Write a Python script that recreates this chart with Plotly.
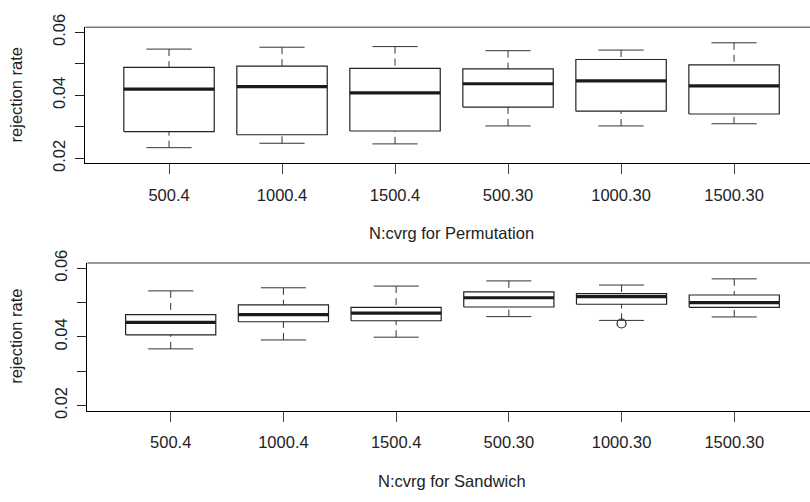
import plotly.graph_objects as go

# Setting labels (N:cvrg) shared by both panels
categories = ["500.4", "1000.4", "1500.4", "500.30", "1000.30", "1500.30"]

# Permutation test: five-number summaries of the rejection rate
perm_lower = [0.0234, 0.0248, 0.0246, 0.0303, 0.0303, 0.0310]
perm_q1 = [0.0285, 0.0275, 0.0287, 0.0363, 0.0350, 0.0341]
perm_median = [0.0420, 0.0428, 0.0408, 0.0437, 0.0446, 0.0430]
perm_q3 = [0.0489, 0.0493, 0.0486, 0.0484, 0.0514, 0.0497]
perm_upper = [0.0547, 0.0553, 0.0555, 0.0542, 0.0544, 0.0567]

# Sandwich estimator: five-number summaries of the rejection rate
sand_lower = [0.0365, 0.0391, 0.0399, 0.0459, 0.0448, 0.0458]
sand_q1 = [0.0406, 0.0444, 0.0447, 0.0487, 0.0495, 0.0486]
sand_median = [0.0442, 0.0465, 0.0469, 0.0514, 0.0517, 0.0500]
sand_q3 = [0.0465, 0.0493, 0.0486, 0.0531, 0.0526, 0.0522]
sand_upper = [0.0534, 0.0543, 0.0548, 0.0563, 0.0551, 0.0569]

# Outlying points beyond the whiskers (category, value)
sand_out_cat = ["1000.30"]
sand_out_val = [0.0439]

y_ticks = [0.02, 0.03, 0.04, 0.05, 0.06]
y_tick_text = ["0.02", "", "0.04", "", "0.06"]

FONT = "Liberation Sans, Arial, sans-serif"
FS = 16.5
W, H = 810, 502
BOX_HALF = 0.4
CAP_HALF = 0.2

fig = go.Figure()


def add_boxplot(lower, q1, med, q3, upper, xa, ya):
    pos = list(range(1, len(categories) + 1))
    bx, by, mx, my, wx, wy, cx, cy = [], [], [], [], [], [], [], []
    for p, lo, a, m, b, hi in zip(pos, lower, q1, med, q3, upper):
        bx += [p - BOX_HALF, p + BOX_HALF, p + BOX_HALF, p - BOX_HALF, p - BOX_HALF, None]
        by += [a, a, b, b, a, None]
        mx += [p - BOX_HALF, p + BOX_HALF, None]
        my += [m, m, None]
        wx += [p, p, None, p, p, None]
        wy += [lo, a, None, hi, b, None]
        cx += [p - CAP_HALF, p + CAP_HALF, None, p - CAP_HALF, p + CAP_HALF, None]
        cy += [lo, lo, None, hi, hi, None]
    common = dict(mode="lines", xaxis=xa, yaxis=ya, showlegend=False, hoverinfo="skip")
    fig.add_trace(go.Scatter(x=wx, y=wy, line=dict(color="#333333", width=1, dash="7px,5px"), **common))
    fig.add_trace(go.Scatter(x=cx, y=cy, line=dict(color="#333333", width=1), **common))
    fig.add_trace(go.Scatter(x=bx, y=by, line=dict(color="#222222", width=1.2), **common))
    fig.add_trace(go.Scatter(x=mx, y=my, line=dict(color="#1a1a1a", width=3.2), **common))


add_boxplot(perm_lower, perm_q1, perm_median, perm_q3, perm_upper, "x", "y")
add_boxplot(sand_lower, sand_q1, sand_median, sand_q3, sand_upper, "x2", "y2")

fig.add_trace(go.Scatter(
    x=[categories.index(c) + 1 for c in sand_out_cat], y=sand_out_val,
    mode="markers", xaxis="x2", yaxis="y2", showlegend=False, hoverinfo="skip",
    marker=dict(symbol="circle-open", size=9, color="#222222", line=dict(width=1.2)),
))

xaxis_common = dict(
    range=[0.26, 6.672], tickmode="array", tickvals=list(range(1, 7)), ticktext=categories,
    showline=True, linecolor="black", linewidth=1, ticks="outside", ticklen=10,
    tickcolor="#444444", tickwidth=1, showgrid=False, zeroline=False,
    tickfont=dict(family=FONT, size=FS, color="#222222"), ticklabelstandoff=7,
)
yaxis_common = dict(
    tickmode="array", tickvals=y_ticks, ticktext=y_tick_text,
    showline=True, linecolor="black", linewidth=1, ticks="outside", ticklen=9,
    tickcolor="#222222", tickwidth=1, showgrid=False, zeroline=False, tickangle=-90,
    tickfont=dict(family=FONT, size=FS, color="#222222"), ticklabelstandoff=4,
)

top_dom = [1 - 157 / H, 1 - 15 / H]
bot_dom = [1 - 415 / H, 1 - 261 / H]

fig.update_layout(
    width=W, height=H, margin=dict(l=0, r=0, t=0, b=0),
    paper_bgcolor="white", plot_bgcolor="white",
    xaxis=dict(domain=[85.4 / W, 1], anchor="y", **xaxis_common),
    yaxis=dict(domain=top_dom, anchor="x", range=[0.0184, 0.0616], **yaxis_common),
    xaxis2=dict(domain=[87.3 / W, 1], anchor="y2", **xaxis_common),
    yaxis2=dict(domain=bot_dom, anchor="x2", range=[0.0185, 0.0615], **yaxis_common),
)

# top edge of each plotting region
for xr, yr in (("x domain", "y domain"), ("x2 domain", "y2 domain")):
    fig.add_shape(type="line", xref=xr, yref=yr, x0=0, x1=1, y0=1, y1=1,
                  line=dict(color="#777777", width=1.5))

title_font = dict(family=FONT, size=FS, color="#222222")
fig.add_annotation(text="N:cvrg for Permutation", xref="x", yref="paper", x=3.5,
                   y=1 - 230 / H, showarrow=False, font=title_font, yanchor="middle")
fig.add_annotation(text="N:cvrg for Sandwich", xref="x2", yref="paper", x=3.5,
                   y=1 - 488 / H, showarrow=False, font=title_font, yanchor="middle")
fig.add_annotation(text="rejection rate", xref="paper", yref="paper", x=16 / W,
                   y=1 - 86 / H, textangle=-90, showarrow=False, font=title_font,
                   xanchor="center", yanchor="middle")
fig.add_annotation(text="rejection rate", xref="paper", yref="paper", x=16 / W,
                   y=1 - 338 / H, textangle=-90, showarrow=False, font=title_font,
                   xanchor="center", yanchor="middle")

fig.write_html("out.html")
